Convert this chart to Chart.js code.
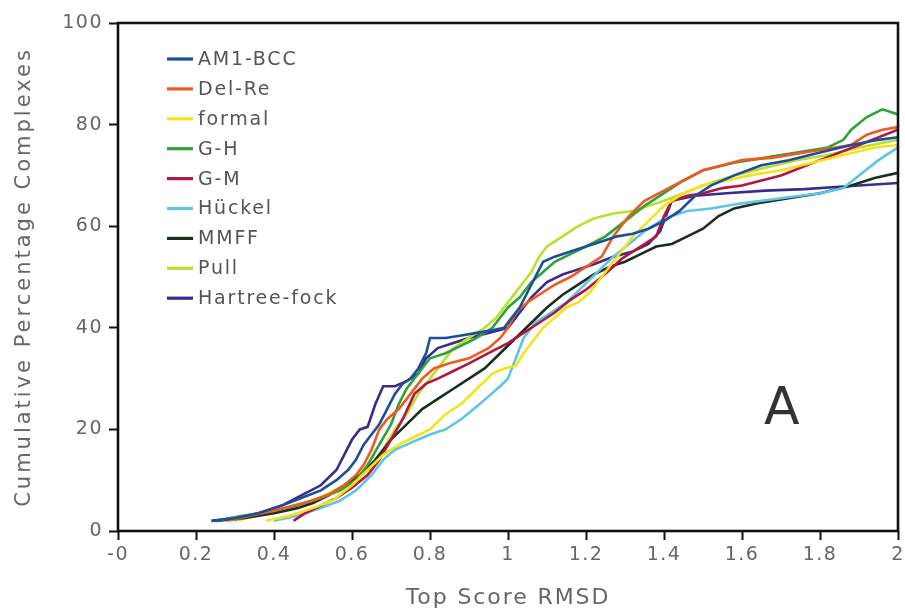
<!DOCTYPE html>
<html><head><meta charset="utf-8">
<script src="https://cdn.jsdelivr.net/npm/chart.js@4"></script>
<style>html,body{margin:0;padding:0;background:#fff;}canvas{display:block;}</style>
</head><body>
<canvas id="c" width="905" height="612"></canvas>
<script>
// ---------- data ----------
const seriesNames = ['AM1-BCC','Del-Re','formal','G-H','G-M','Hückel','MMFF','Pull','Hartree-fock'];
const seriesColors = ['#1d4e9b','#ee5a22','#f7e21a','#2da33a','#b3163e','#5cc6ea','#1c2e1f','#b9e02c','#3c2b8f'];

const xAM1 = [0.24,0.30,0.36,0.42,0.47,0.52,0.56,0.59,0.61,0.63,0.65,0.67,0.69,0.71,0.73,0.75,0.77,0.79,0.80,0.84,0.88,0.92,0.96,0.99,1.01,1.03,1.05,1.07,1.09,1.12,1.16,1.20,1.24,1.28,1.32,1.36,1.40,1.44,1.48,1.52,1.58,1.65,1.72,1.80,1.88,1.95,2.00];
const yAM1 = [2,2.5,3.5,5,6.5,8,10,12,14,17,19,21,24,27,29,30,32,35,38,38,38.5,39,39.5,40,42,44,47,50,53,54,55,56,57,58,58.5,59.5,61,63,66,68,70,72,73,74.5,76,77,77.5];

const xDelRe = [0.28,0.34,0.40,0.45,0.50,0.55,0.58,0.61,0.63,0.65,0.67,0.69,0.72,0.75,0.78,0.81,0.85,0.90,0.95,0.98,1.00,1.02,1.05,1.08,1.12,1.16,1.20,1.24,1.27,1.31,1.35,1.40,1.45,1.50,1.55,1.60,1.68,1.76,1.84,1.88,1.92,1.96,2.00];
const yDelRe = [2,3,4,5,6,7.5,9,11,13,16,20,22,24,27,30,32,33,34,36,38,40,43,45,46.5,48.5,50,52,54,58,62,65,67,69,71,72,73,73.5,74.5,75.5,76,78,79,79.5];

const xFormal = [0.38,0.44,0.50,0.55,0.60,0.64,0.68,0.72,0.76,0.80,0.84,0.88,0.92,0.96,0.99,1.02,1.04,1.06,1.09,1.12,1.15,1.18,1.21,1.24,1.28,1.32,1.36,1.40,1.45,1.50,1.56,1.62,1.70,1.78,1.86,1.94,2.00];
const yFormal = [2,3,4.5,6,9,12,15,17,18.5,20,23,25,28,31,32,32.5,35,37,40,42,44,45,47,50,54,58,61,64,66.5,68,69,70,71,72.5,74,75.5,76];

const xGH = [0.25,0.32,0.40,0.46,0.52,0.57,0.61,0.64,0.67,0.70,0.72,0.74,0.77,0.80,0.84,0.88,0.92,0.96,1.00,1.03,1.06,1.09,1.12,1.16,1.20,1.25,1.30,1.35,1.40,1.45,1.50,1.58,1.66,1.74,1.82,1.86,1.88,1.92,1.96,2.00];
const yGH = [2,3,4,5,6.5,8,10,13,17,21,25,28,31,34,35,36.5,38,40,44,46,49,51,53,54.5,56,58,61,64,66.5,69,71,72.5,73.5,74.5,75.5,77,79,81.5,83,82];

const xGM = [0.45,0.48,0.52,0.56,0.60,0.64,0.67,0.70,0.73,0.76,0.79,0.82,0.86,0.90,0.95,1.00,1.04,1.08,1.12,1.16,1.20,1.24,1.27,1.29,1.32,1.35,1.38,1.40,1.42,1.46,1.50,1.55,1.60,1.70,1.80,1.90,2.00];
const yGM = [2,3.5,5,6.5,8.5,11,14,18,22,27,29,30,31.5,33,35,37,39,41,43,45.5,47.5,50,52,53.5,55,56.5,58,62,65,66,66.5,67.5,68,70,73,76,79];

const xHuckel = [0.40,0.46,0.52,0.57,0.61,0.65,0.68,0.71,0.74,0.77,0.80,0.84,0.88,0.92,0.95,0.98,1.00,1.02,1.04,1.07,1.11,1.15,1.19,1.23,1.27,1.31,1.35,1.40,1.46,1.52,1.60,1.70,1.80,1.86,1.90,1.95,2.00];
const yHuckel = [2,3,4.5,6,8,11,14,16,17,18,19,20,22,24.5,26.5,28.5,30,34,38,41,43,45,48,51,54,56.5,59,61.5,63,63.5,64.5,65.5,66.5,67.5,70,73,75.5];

const xMMFF = [0.25,0.32,0.40,0.46,0.50,0.54,0.58,0.62,0.66,0.70,0.74,0.78,0.82,0.86,0.90,0.94,0.98,1.02,1.06,1.10,1.14,1.18,1.22,1.26,1.30,1.34,1.38,1.42,1.46,1.50,1.54,1.58,1.64,1.72,1.80,1.88,1.94,2.00];
const yMMFF = [2,2.5,3.5,4.5,5.5,7,9,11,14,18,21,24,26,28,30,32,35,38,41,44,46.5,48.5,50.5,52,53,54.5,56,56.5,58,59.5,62,63.5,64.5,65.5,66.5,68,69.5,70.5];

const xPull = [0.30,0.36,0.42,0.48,0.53,0.58,0.62,0.65,0.68,0.71,0.74,0.77,0.80,0.83,0.86,0.90,0.94,0.97,1.00,1.03,1.06,1.08,1.10,1.14,1.18,1.22,1.27,1.32,1.36,1.40,1.45,1.50,1.58,1.66,1.74,1.82,1.90,2.00];
const yPull = [2,3,4,5.5,7,9,11,13,16,20,23,27,30,33,36,38,40,42,45,48,51,54,56,58,60,61.5,62.5,63,64,65,66.5,68,70,71.5,73,74,75.5,77];

const xHF = [0.24,0.30,0.36,0.42,0.47,0.52,0.56,0.58,0.60,0.62,0.64,0.66,0.68,0.71,0.74,0.77,0.79,0.82,0.86,0.90,0.95,1.00,1.03,1.06,1.10,1.14,1.18,1.22,1.27,1.32,1.36,1.39,1.42,1.48,1.56,1.66,1.76,1.86,1.94,2.00];
const yHF = [2,2.5,3.5,5,7,9,12,15,18,20,20.5,25,28.5,28.5,29.5,31,34,36,37,38,39,40,43,46,49,50.5,51.5,52.5,54,55,56.5,59,65,66,66.5,67,67.3,67.8,68.2,68.5];

const seriesX = [xAM1,xDelRe,xFormal,xGH,xGM,xHuckel,xMMFF,xPull,xHF];
const seriesY = [yAM1,yDelRe,yFormal,yGH,yGM,yHuckel,yMMFF,yPull,yHF];

const xTickValues = [0,0.2,0.4,0.6,0.8,1,1.2,1.4,1.6,1.8,2];
const xTickLabels = ['-0','0.2','0.4','0.6','0.8','1','1.2','1.4','1.6','1.8','2'];
const yTickValues = [0,20,40,60,80,100];
const yTickLabels = ['0','20','40','60','80','100'];
const xTitle = 'Top Score RMSD';
const yTitle = 'Cumulative Percentage Complexes';
const panelLetter = 'A';

// ---------- chart ----------
const FONT = "'DejaVu Sans', Verdana, sans-serif";
Chart.defaults.font.family = FONT;

const datasets = seriesNames.map((name, i) => ({
  label: name,
  data: seriesX[i].map((x, j) => ({x: x, y: seriesY[i][j]})),
  borderColor: seriesColors[i],
  backgroundColor: seriesColors[i],
  borderWidth: 2.6,
  pointRadius: 0,
  tension: 0,
  fill: false
}));

const decor = {
  id: 'decor',
  beforeDraw(chart) { chart.ctx.letterSpacing = '1.5px'; },
  afterDatasetsDraw(chart) {
    const ctx = chart.ctx, a = chart.chartArea;
    ctx.save();
    ctx.letterSpacing = '0px';
    ctx.strokeStyle = '#111';
    ctx.lineWidth = 2.6;
    ctx.strokeRect(a.left, a.top, a.right - a.left, a.bottom - a.top);
    ctx.restore();
  },
  afterDraw(chart) {
    const ctx = chart.ctx, a = chart.chartArea;
    ctx.save();
    // legend
    ctx.font = '19px ' + FONT;
    ctx.letterSpacing = '1.8px';
    ctx.textAlign = 'left';
    ctx.textBaseline = 'middle';
    chart.data.datasets.forEach((ds, i) => {
      const y = a.top + 36 + i * 29.9;
      ctx.strokeStyle = ds.borderColor;
      ctx.lineWidth = 3.2;
      ctx.beginPath();
      ctx.moveTo(a.left + 49, y);
      ctx.lineTo(a.left + 75, y);
      ctx.stroke();
      ctx.fillStyle = '#555';
      ctx.fillText(ds.label, a.left + 80, y + 1);
    });
    // axis titles
    ctx.fillStyle = '#666';
    ctx.textAlign = 'center';
    ctx.font = '22px ' + FONT;
    ctx.letterSpacing = '1.9px';
    ctx.fillText(xTitle, (a.left + a.right) / 2, 598);
    ctx.save();
    ctx.translate(25, (a.top + a.bottom) / 2);
    ctx.rotate(-Math.PI / 2);
    ctx.font = '21px ' + FONT;
    ctx.letterSpacing = '3px';
    ctx.fillText(yTitle, 0, 0);
    ctx.restore();
    // panel letter
    ctx.letterSpacing = '0px';
    ctx.fillStyle = '#333';
    ctx.font = '52px ' + FONT;
    ctx.fillText(panelLetter, a.left + 0.851 * (a.right - a.left), 410);
    ctx.restore();
  }
};

new Chart(document.getElementById('c'), {
  type: 'line',
  data: { datasets: datasets },
  options: {
    responsive: false,
    animation: false,
    layout: { padding: { top: 23, right: 7, bottom: 0, left: 0 } },
    plugins: { legend: { display: false }, tooltip: { enabled: false } },
    scales: {
      x: {
        type: 'linear',
        min: 0, max: 2,
        afterBuildTicks: s => { s.ticks = xTickValues.map(v => ({ value: v })); },
        afterFit: s => { s.height = 81; s.paddingLeft = 0; s.paddingRight = 0; },
        border: { display: false },
        grid: { drawOnChartArea: false, drawTicks: true, tickLength: 9, tickWidth: 2, tickColor: '#111' },
        ticks: {
          autoSkip: false, maxRotation: 0, padding: 4,
          color: '#666', font: { size: 19 },
          callback: (v, i) => xTickLabels[i]
        }
      },
      y: {
        type: 'linear',
        min: 0, max: 100,
        afterBuildTicks: s => { s.ticks = yTickValues.map(v => ({ value: v })); },
        afterFit: s => { s.width = 118; s.paddingTop = 0; s.paddingBottom = 0; },
        border: { display: false },
        grid: { drawOnChartArea: false, drawTicks: true, tickLength: 9, tickWidth: 2, tickColor: '#111' },
        ticks: {
          padding: 6,
          color: '#666', font: { size: 19 },
          callback: (v, i) => yTickLabels[i]
        }
      }
    }
  },
  plugins: [decor]
});
</script>
</body></html>
